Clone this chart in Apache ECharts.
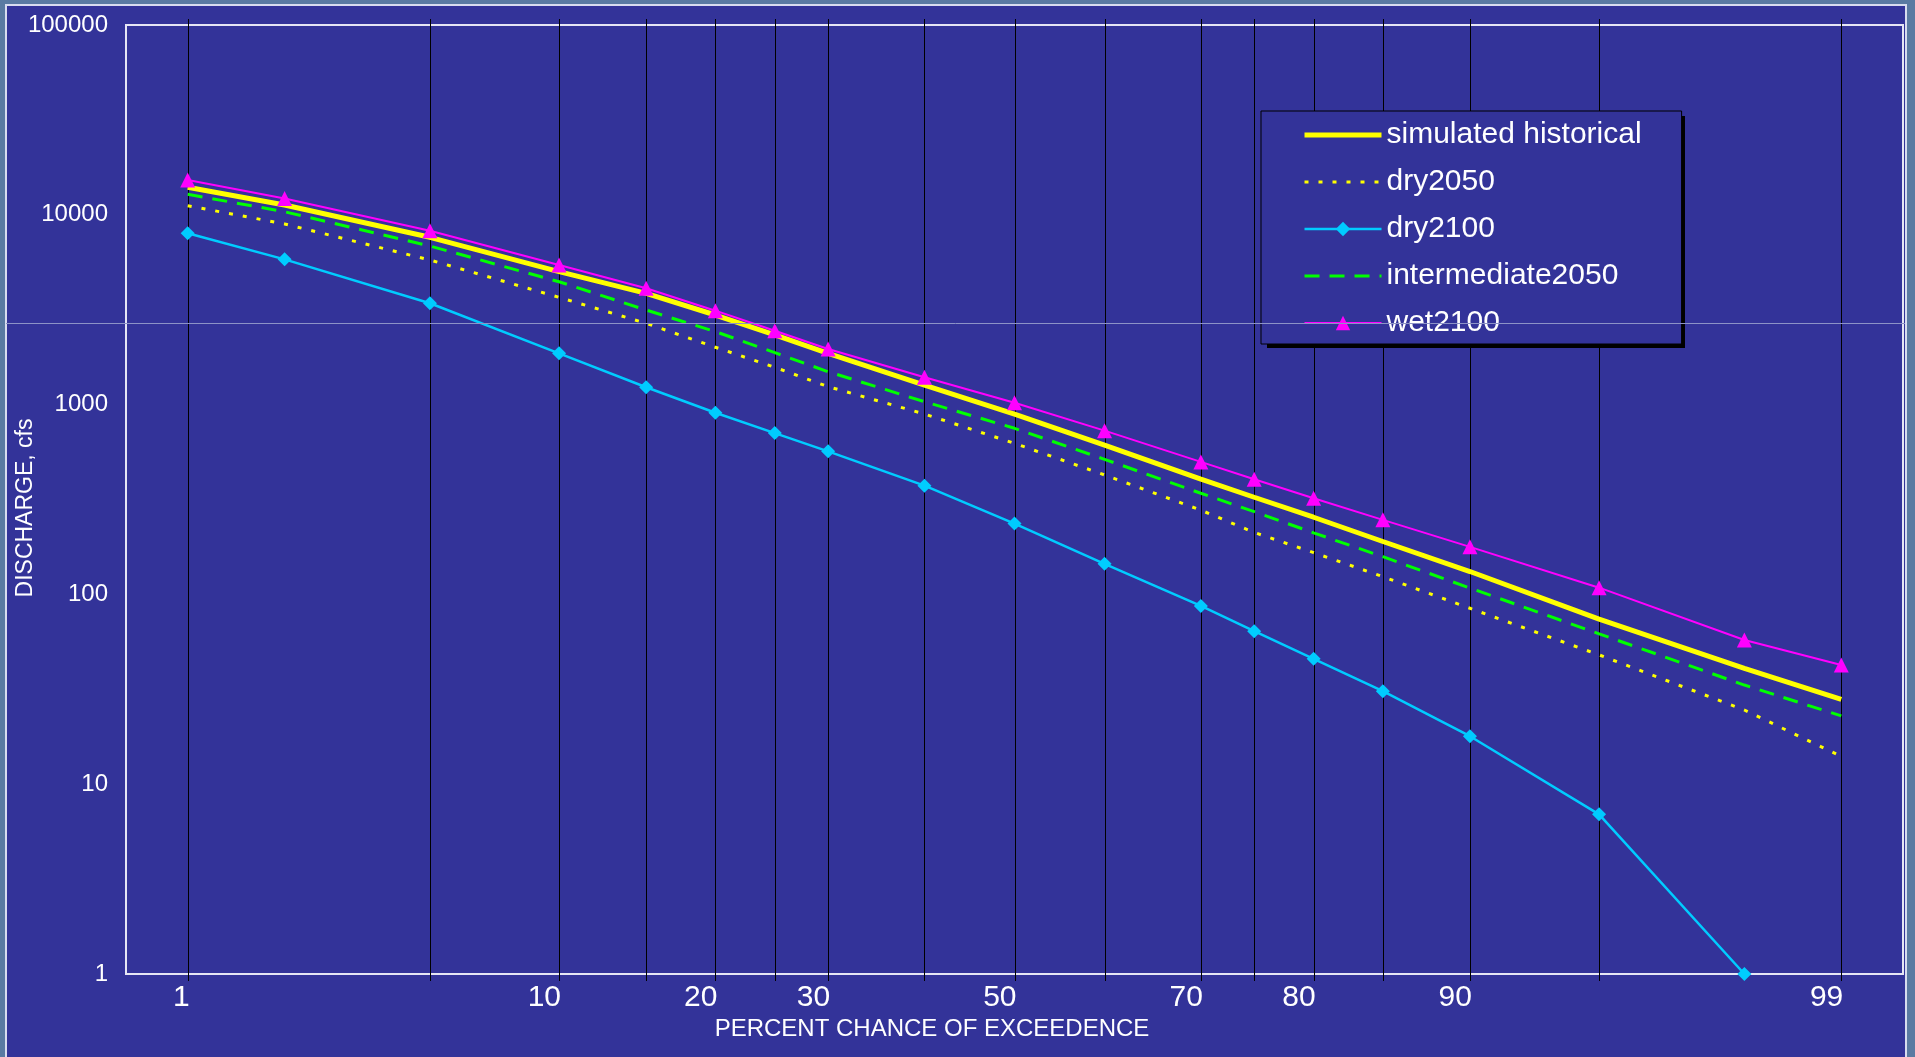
<!DOCTYPE html>
<html>
<head>
<meta charset="utf-8">
<script src="https://cdn.jsdelivr.net/npm/echarts@6/dist/echarts.min.js"></script>
<style>
  html, body { margin: 0; padding: 0; width: 1915px; height: 1057px; overflow: hidden; background: #5a7aa2; }
  #frame { position: absolute; left: 5px; top: 4px; width: 1898px; height: 1100px; background: #333399; border: 2px solid #d8dcef; }
  #chart { position: absolute; left: 0; top: 0; width: 1915px; height: 1057px; }
</style>
</head>
<body>
<div id="frame"></div>
<div id="chart"></div>
<script>
// percent chance of exceedence for each plotted point
const pct = [1, 2, 5, 10, 15, 20, 25, 30, 40, 50, 60, 70, 75, 80, 85, 90, 95, 98, 99];
const simHistorical = [13960, 11270, 7610, 5015, 3857, 2965, 2327, 1863, 1268, 892, 612, 405, 325, 255, 190, 132, 74, 40.8, 28];
const dry2050 = [11170, 8950, 5780, 3675, 2680, 2005, 1572, 1243, 892, 625, 426, 278, 212, 166, 124, 84.5, 48, 24.6, 14];
const dry2100 = [7990, 5825, 3418, 1863, 1234, 906, 708, 567, 374, 236, 145, 87, 64, 45.8, 30.9, 17.9, 6.94, 1];
const intermediate2050 = [12820, 10380, 6850, 4440, 3150, 2423, 1878, 1490, 1036, 750, 515, 341, 273, 211, 158, 108, 62, 33.3, 22.9];
const wet2100 = [15250, 12200, 8240, 5440, 4100, 3125, 2450, 1963, 1393, 1023, 729, 499, 404, 321, 247, 178, 108.5, 57.5, 42.5];

// vertical grid lines and tick labels of the probability axis
const gridPct = [1, 5, 10, 15, 20, 25, 30, 40, 50, 60, 70, 75, 80, 85, 90, 95, 99];
const tickPct = [1, 10, 20, 30, 50, 70, 80, 90, 99];

// inverse normal cdf (Acklam) -> probability paper scale
function probit(p) {
  const a = [-3.969683028665376e+01, 2.209460984245205e+02, -2.759285104469687e+02, 1.383577518672690e+02, -3.066479806614716e+01, 2.506628277459239e+00];
  const b = [-5.447609879822406e+01, 1.615858368580409e+02, -1.556989798598866e+02, 6.680131188771972e+01, -1.328068155288572e+01];
  const c = [-7.784894002430293e-03, -3.223964580411365e-01, -2.400758277161838e+00, -2.549732539343734e+00, 4.374664141464968e+00, 2.938163982698783e+00];
  const d = [7.784695709041462e-03, 3.224671290700398e-01, 2.445134137142996e+00, 3.754408661907416e+00];
  const pl = 0.02425;
  let q, r;
  if (p < pl) {
    q = Math.sqrt(-2 * Math.log(p));
    return (((((c[0] * q + c[1]) * q + c[2]) * q + c[3]) * q + c[4]) * q + c[5]) / ((((d[0] * q + d[1]) * q + d[2]) * q + d[3]) * q + 1);
  }
  if (p <= 1 - pl) {
    q = p - 0.5; r = q * q;
    return (((((a[0] * r + a[1]) * r + a[2]) * r + a[3]) * r + a[4]) * r + a[5]) * q / (((((b[0] * r + b[1]) * r + b[2]) * r + b[3]) * r + b[4]) * r + 1);
  }
  q = Math.sqrt(-2 * Math.log(1 - p));
  return -(((((c[0] * q + c[1]) * q + c[2]) * q + c[3]) * q + c[4]) * q + c[5]) / ((((d[0] * q + d[1]) * q + d[2]) * q + d[3]) * q + 1);
}

function toPoints(values) {
  return values.map((v, i) => [probit(pct[i] / 100), v]);
}

const font = '"Liberation Sans", Arial, sans-serif';
const noMark = 'rgba(0,0,0,0)';

const option = {
  animation: false,
  backgroundColor: 'transparent',
  grid: {
    left: 126, top: 25, width: 1777, height: 949,
    show: true, borderColor: '#e6e6f5', borderWidth: 2, backgroundColor: 'transparent'
  },
  xAxis: {
    type: 'value', min: -2.5, max: 2.5,
    axisLine: { show: false }, axisTick: { show: false },
    axisLabel: { show: false }, splitLine: { show: false }
  },
  yAxis: {
    type: 'log', logBase: 10, min: 1, max: 100000,
    axisLine: { show: false }, axisTick: { show: false }, splitLine: { show: false },
    axisLabel: {
      color: '#ffffff', fontSize: 24, fontFamily: font, margin: 18,
      showMinLabel: true, showMaxLabel: true,
      formatter: v => String(v)
    }
  },
  legend: {
    orient: 'vertical', left: 1261, top: 111, z: 4,
    padding: [6, 40, 3, 41],
    itemWidth: 77, itemHeight: 18, itemGap: 11,
    backgroundColor: '#333399', borderColor: '#000000', borderWidth: 1,
    lineStyle: { width: 'inherit' },
    textStyle: { color: '#ffffff', fontSize: 30, fontFamily: font, lineHeight: 36 },
    data: ['simulated historical', 'dry2050', 'dry2100', 'intermediate2050', 'wet2100']
  },
  graphic: [
    {
      type: 'rect', z: 3,
      shape: { x: 1267, y: 116, width: 418, height: 232 },
      style: { fill: '#000000' }
    },
    {
      type: 'line', z: 100,
      shape: { x1: 6, y1: 323.5, x2: 1905, y2: 323.5 },
      style: { stroke: '#8d93c7', lineWidth: 1 }
    },
    {
      type: 'text', x: 932, y: 1029,
      style: { text: 'PERCENT CHANCE OF EXCEEDENCE', fill: '#ffffff', font: '24px ' + font, align: 'center', verticalAlign: 'middle' }
    },
    {
      type: 'text', x: 26, y: 508, rotation: Math.PI / 2,
      style: { text: 'DISCHARGE, cfs', fill: '#ffffff', font: '23px ' + font, align: 'center', verticalAlign: 'middle' }
    }
  ],
  series: [
    {
      type: 'custom', name: 'grid', z: 1, silent: true,
      data: gridPct.map(p => [probit(p / 100), 1]),
      renderItem(params, api) {
        const x = Math.round(api.coord([api.value(0), 1])[0]) + 0.5;
        const cs = params.coordSys;
        return {
          type: 'line',
          shape: { x1: x, y1: cs.y - 6, x2: x, y2: cs.y + cs.height + 7 },
          style: { stroke: '#000000', lineWidth: 1 }
        };
      }
    },
    {
      type: 'custom', name: 'ticks', z: 1, silent: true,
      data: tickPct.map(p => [probit(p / 100), 1, p]),
      renderItem(params, api) {
        const x = api.coord([api.value(0), 1])[0];
        const cs = params.coordSys;
        return {
          type: 'text', x: x + 2, y: cs.y + cs.height + 24,
          style: { text: String(api.value(2)), fill: '#ffffff', font: '30px ' + font, align: 'right', verticalAlign: 'middle' }
        };
      }
    },
    {
      name: 'simulated historical', type: 'line', z: 3, symbol: 'none',
      data: toPoints(simHistorical),
      itemStyle: { color: noMark },
      lineStyle: { color: '#ffff00', width: 5 }
    },
    {
      name: 'dry2050', type: 'line', z: 4, symbol: 'none',
      data: toPoints(dry2050),
      itemStyle: { color: noMark },
      lineStyle: { color: '#ffff00', width: 3, type: [4, 10] }
    },
    {
      name: 'dry2100', type: 'line', z: 5, symbol: 'diamond', symbolSize: 14,
      data: toPoints(dry2100),
      itemStyle: { color: '#00ccff' },
      lineStyle: { color: '#00ccff', width: 2.5 }
    },
    {
      name: 'intermediate2050', type: 'line', z: 6, symbol: 'none',
      data: toPoints(intermediate2050),
      itemStyle: { color: noMark },
      lineStyle: { color: '#00ff00', width: 3, type: [15, 10] }
    },
    {
      name: 'wet2100', type: 'line', z: 7, symbol: 'triangle', symbolSize: 15,
      data: toPoints(wet2100),
      itemStyle: { color: '#ff00ff' },
      lineStyle: { color: '#ff00ff', width: 2 }
    }
  ]
};

const chart = echarts.init(document.getElementById('chart'), null, { renderer: 'canvas' });
chart.setOption(option);
window.addEventListener('resize', () => chart.resize());
</script>
</body>
</html>
